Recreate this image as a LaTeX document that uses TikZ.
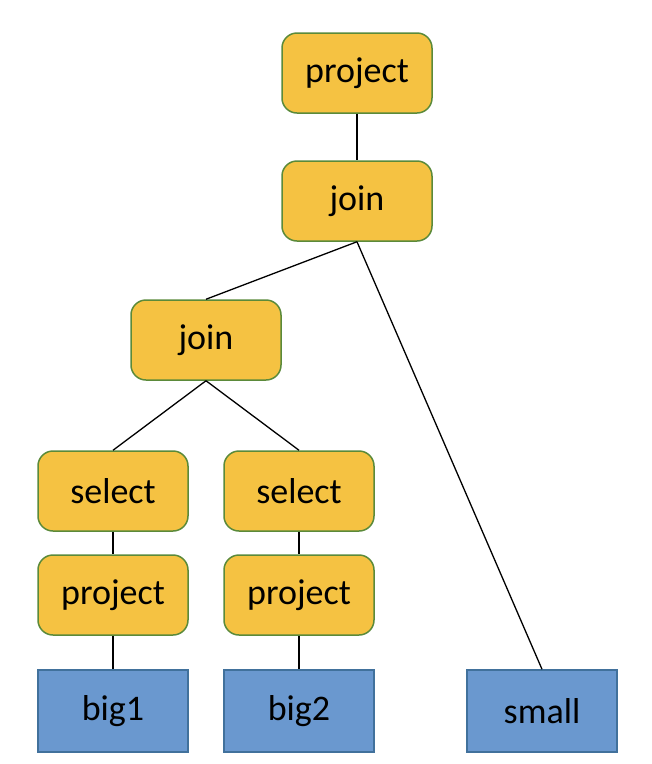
\documentclass[tikz,border=0pt]{standalone}
\usepackage{fontspec}
\setmainfont{Carlito}
\definecolor{opfill}{HTML}{F5C242}
\definecolor{opdraw}{HTML}{5B8A3A}
\definecolor{tbfill}{HTML}{6A98CF}
\definecolor{tbdraw}{HTML}{41719C}
\begin{document}
\begin{tikzpicture}[x=1pt,y=-1pt,
  opbox/.style={draw=opdraw,fill=opfill,line width=1.5pt,rounded corners=15pt,minimum width=150pt,minimum height=80pt,inner sep=0pt,font=\fontsize{36}{40}\selectfont},
  tbbox/.style={draw=tbdraw,fill=tbfill,line width=1.5pt,minimum width=150pt,minimum height=82pt,inner sep=0pt,font=\fontsize{36}{40}\selectfont},
  edge/.style={line width=1.3pt,draw=black}]
\useasboundingbox (0,0) rectangle (652,764);
\node[opbox] (p0) at (357,73) {project};
\node[opbox] (j0) at (357,201) {join};
\node[opbox] (j1) at (206,340) {join};
\node[opbox] (s1) at (113,491) {select};
\node[opbox] (s2) at (299,491) {select};
\node[opbox] (p1) at (113,595) {project};
\node[opbox] (p2) at (299,595) {project};
\node[tbbox] (b1) at (113,711) {big1};
\node[tbbox] (b2) at (299,711) {big2};
\node[tbbox] (sm) at (542,711) {small};
\draw[edge] (p0.south) -- (j0.north);
\draw[edge] (j0.south) -- (j1.north);
\draw[edge] (j0.south) -- (sm.north);
\draw[edge] (j1.south) -- (s1.north);
\draw[edge] (j1.south) -- (s2.north);
\draw[edge] (s1.south) -- (p1.north);
\draw[edge] (s2.south) -- (p2.north);
\draw[edge] (p1.south) -- (b1.north);
\draw[edge] (p2.south) -- (b2.north);
\end{tikzpicture}
\end{document}
